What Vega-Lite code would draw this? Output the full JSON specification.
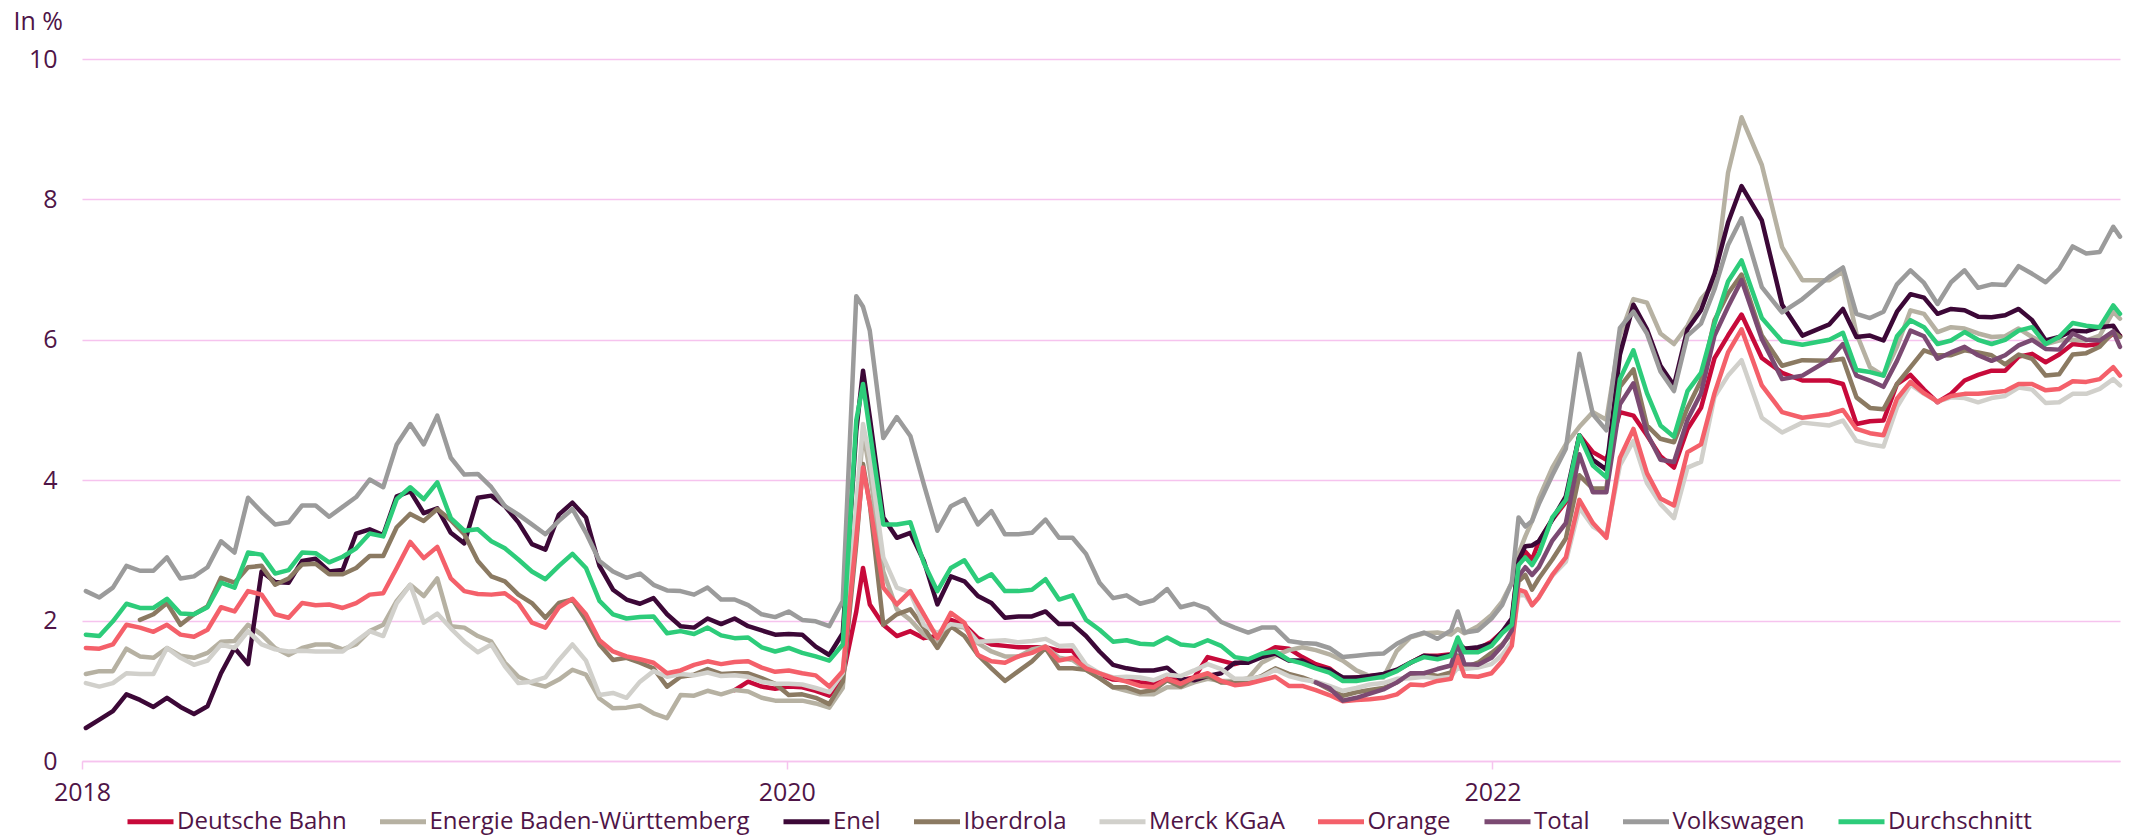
{
"$schema": "https://vega.github.io/schema/vega-lite/v6.json",
"width": 2038,
"height": 702,
"autosize": {"type": "none"},
"padding": {"left": 82, "top": 59, "right": 11, "bottom": 77},
"background": "white",
"datasets": {
"names": [
{"code":"DB","name":"Deutsche Bahn"},
{"code":"EnBW","name":"Energie Baden-Württemberg"},
{"code":"Enel","name":"Enel"},
{"code":"Ibe","name":"Iberdrola"},
{"code":"Merck","name":"Merck KGaA"},
{"code":"Orange","name":"Orange"},
{"code":"Total","name":"Total"},
{"code":"VW","name":"Volkswagen"},
{"code":"Avg","name":"Durchschnitt"}
],
"rates": [
{"d":"2018-01-05","EnBW":1.24,"Enel":0.47,"Merck":1.11,"Orange":1.61,"VW":2.42,"Avg":1.8},
{"d":"2018-01-19","EnBW":1.28,"Enel":0.59,"Merck":1.06,"Orange":1.6,"VW":2.33,"Avg":1.78},
{"d":"2018-02-02","EnBW":1.28,"Enel":0.71,"Merck":1.11,"Orange":1.66,"VW":2.47,"Avg":1.99},
{"d":"2018-02-16","EnBW":1.6,"Enel":0.95,"Merck":1.25,"Orange":1.94,"VW":2.78,"Avg":2.24},
{"d":"2018-03-02","EnBW":1.49,"Enel":0.87,"Ibe":2.01,"Merck":1.24,"Orange":1.9,"VW":2.71,"Avg":2.18},
{"d":"2018-03-16","EnBW":1.47,"Enel":0.77,"Ibe":2.09,"Merck":1.24,"Orange":1.84,"VW":2.71,"Avg":2.18},
{"d":"2018-03-30","EnBW":1.61,"Enel":0.9,"Ibe":2.25,"Merck":1.61,"Orange":1.94,"VW":2.9,"Avg":2.31},
{"d":"2018-04-13","EnBW":1.5,"Enel":0.77,"Ibe":1.94,"Merck":1.47,"Orange":1.8,"VW":2.6,"Avg":2.1},
{"d":"2018-04-27","EnBW":1.47,"Enel":0.67,"Ibe":2.09,"Merck":1.37,"Orange":1.77,"VW":2.63,"Avg":2.09},
{"d":"2018-05-11","EnBW":1.54,"Enel":0.78,"Ibe":2.2,"Merck":1.43,"Orange":1.87,"VW":2.76,"Avg":2.19},
{"d":"2018-05-25","EnBW":1.7,"Enel":1.25,"Ibe":2.61,"Merck":1.66,"Orange":2.19,"VW":3.13,"Avg":2.54},
{"d":"2018-06-08","EnBW":1.71,"Enel":1.61,"Ibe":2.54,"Merck":1.61,"Orange":2.13,"VW":2.97,"Avg":2.47},
{"d":"2018-06-22","EnBW":1.94,"Enel":1.38,"Ibe":2.76,"Merck":1.85,"Orange":2.42,"VW":3.75,"Avg":2.97},
{"d":"2018-07-06","EnBW":1.8,"Enel":2.7,"Ibe":2.78,"Merck":1.66,"Orange":2.37,"VW":3.55,"Avg":2.94},
{"d":"2018-07-20","EnBW":1.61,"Enel":2.55,"Ibe":2.51,"Merck":1.59,"Orange":2.09,"VW":3.37,"Avg":2.67},
{"d":"2018-08-03","EnBW":1.51,"Enel":2.54,"Ibe":2.6,"Merck":1.56,"Orange":2.04,"VW":3.4,"Avg":2.72},
{"d":"2018-08-17","EnBW":1.61,"Enel":2.85,"Ibe":2.8,"Merck":1.57,"Orange":2.25,"VW":3.64,"Avg":2.97},
{"d":"2018-08-31","EnBW":1.66,"Enel":2.88,"Ibe":2.81,"Merck":1.56,"Orange":2.22,"VW":3.64,"Avg":2.96},
{"d":"2018-09-14","EnBW":1.66,"Enel":2.7,"Ibe":2.66,"Merck":1.56,"Orange":2.23,"VW":3.48,"Avg":2.83},
{"d":"2018-09-28","EnBW":1.59,"Enel":2.72,"Ibe":2.66,"Merck":1.56,"Orange":2.18,"VW":3.62,"Avg":2.91},
{"d":"2018-10-12","EnBW":1.66,"Enel":3.24,"Ibe":2.75,"Merck":1.71,"Orange":2.25,"VW":3.76,"Avg":3.03},
{"d":"2018-10-26","EnBW":1.85,"Enel":3.3,"Ibe":2.92,"Merck":1.85,"Orange":2.37,"VW":4.01,"Avg":3.24},
{"d":"2018-11-09","EnBW":1.94,"Enel":3.22,"Ibe":2.92,"Merck":1.78,"Orange":2.39,"VW":3.9,"Avg":3.2},
{"d":"2018-11-23","EnBW":2.28,"Enel":3.77,"Ibe":3.33,"Merck":2.25,"Orange":2.75,"VW":4.51,"Avg":3.73},
{"d":"2018-12-07","EnBW":2.51,"Enel":3.84,"Ibe":3.52,"Merck":2.51,"Orange":3.12,"VW":4.8,"Avg":3.9},
{"d":"2018-12-21","EnBW":2.35,"Enel":3.53,"Ibe":3.42,"Merck":1.97,"Orange":2.89,"VW":4.51,"Avg":3.73},
{"d":"2019-01-04","EnBW":2.6,"Enel":3.6,"Ibe":3.59,"Merck":2.1,"Orange":3.05,"VW":4.92,"Avg":3.97},
{"d":"2019-01-18","EnBW":1.92,"Enel":3.25,"Ibe":3.43,"Merck":1.89,"Orange":2.6,"VW":4.32,"Avg":3.46},
{"d":"2019-02-01","EnBW":1.9,"Enel":3.1,"Ibe":3.23,"Merck":1.7,"Orange":2.42,"VW":4.08,"Avg":3.28},
{"d":"2019-02-15","EnBW":1.78,"Enel":3.75,"Ibe":2.85,"Merck":1.55,"Orange":2.38,"VW":4.09,"Avg":3.3},
{"d":"2019-03-01","EnBW":1.7,"Enel":3.78,"Ibe":2.63,"Merck":1.66,"Orange":2.37,"VW":3.9,"Avg":3.13},
{"d":"2019-03-15","EnBW":1.4,"Enel":3.63,"Ibe":2.56,"Merck":1.35,"Orange":2.39,"VW":3.63,"Avg":3.03},
{"d":"2019-03-29","EnBW":1.2,"Enel":3.4,"Ibe":2.37,"Merck":1.11,"Orange":2.25,"VW":3.51,"Avg":2.87},
{"d":"2019-04-12","EnBW":1.11,"Enel":3.09,"Ibe":2.25,"Merck":1.13,"Orange":1.97,"VW":3.37,"Avg":2.7},
{"d":"2019-04-26","EnBW":1.06,"Enel":3.01,"Ibe":2.04,"Merck":1.19,"Orange":1.9,"VW":3.23,"Avg":2.59},
{"d":"2019-05-10","EnBW":1.16,"Enel":3.51,"Ibe":2.25,"Merck":1.44,"Orange":2.19,"VW":3.42,"Avg":2.78},
{"d":"2019-05-24","EnBW":1.3,"Enel":3.68,"Ibe":2.3,"Merck":1.66,"Orange":2.31,"VW":3.59,"Avg":2.95},
{"d":"2019-06-07","EnBW":1.23,"Enel":3.47,"Ibe":2.01,"Merck":1.43,"Orange":2.09,"VW":3.25,"Avg":2.75},
{"d":"2019-06-21","EnBW":0.89,"Enel":2.78,"Ibe":1.66,"Merck":0.94,"Orange":1.72,"VW":2.85,"Avg":2.28},
{"d":"2019-07-05","EnBW":0.75,"Enel":2.44,"Ibe":1.44,"Merck":0.97,"Orange":1.56,"VW":2.7,"Avg":2.09},
{"d":"2019-07-19","EnBW":0.76,"Enel":2.3,"Ibe":1.47,"Merck":0.9,"Orange":1.49,"VW":2.61,"Avg":2.03},
{"d":"2019-08-02","EnBW":0.79,"Enel":2.24,"Ibe":1.4,"Merck":1.13,"Orange":1.45,"VW":2.67,"Avg":2.05},
{"d":"2019-08-16","EnBW":0.68,"Enel":2.32,"Ibe":1.32,"Merck":1.28,"Orange":1.4,"VW":2.51,"Avg":2.06},
{"d":"2019-08-30","EnBW":0.61,"Enel":2.09,"Ibe":1.06,"Merck":1.2,"Orange":1.25,"VW":2.43,"Avg":1.82},
{"d":"2019-09-13","EnBW":0.94,"Enel":1.92,"Ibe":1.2,"Merck":1.24,"Orange":1.29,"VW":2.42,"Avg":1.85},
{"d":"2019-09-27","EnBW":0.93,"Enel":1.9,"Ibe":1.23,"Merck":1.22,"Orange":1.37,"VW":2.37,"Avg":1.81},
{"d":"2019-10-11","EnBW":1.0,"Enel":2.03,"Ibe":1.31,"Merck":1.26,"Orange":1.42,"VW":2.47,"Avg":1.9},
{"d":"2019-10-25","EnBW":0.95,"Enel":1.95,"Ibe":1.24,"Merck":1.21,"Orange":1.38,"VW":2.3,"Avg":1.79},
{"d":"2019-11-08","DB":1.01,"EnBW":1.01,"Enel":2.03,"Ibe":1.25,"Merck":1.22,"Orange":1.41,"VW":2.3,"Avg":1.75},
{"d":"2019-11-22","DB":1.13,"EnBW":0.99,"Enel":1.92,"Ibe":1.25,"Merck":1.2,"Orange":1.42,"VW":2.22,"Avg":1.76},
{"d":"2019-12-06","DB":1.06,"EnBW":0.9,"Enel":1.86,"Ibe":1.18,"Merck":1.13,"Orange":1.33,"VW":2.09,"Avg":1.62},
{"d":"2019-12-20","DB":1.03,"EnBW":0.86,"Enel":1.8,"Ibe":1.1,"Merck":1.1,"Orange":1.27,"VW":2.05,"Avg":1.56},
{"d":"2020-01-03","DB":1.06,"EnBW":0.86,"Enel":1.81,"Ibe":0.94,"Merck":1.1,"Orange":1.29,"VW":2.13,"Avg":1.61},
{"d":"2020-01-17","DB":1.05,"EnBW":0.86,"Enel":1.8,"Ibe":0.95,"Merck":1.09,"Orange":1.25,"VW":2.01,"Avg":1.54},
{"d":"2020-01-31","DB":1.0,"EnBW":0.82,"Enel":1.63,"Ibe":0.9,"Merck":1.04,"Orange":1.22,"VW":1.99,"Avg":1.49},
{"d":"2020-02-14","DB":0.93,"EnBW":0.76,"Enel":1.51,"Ibe":0.81,"Merck":0.98,"Orange":1.06,"VW":1.92,"Avg":1.43},
{"d":"2020-02-28","DB":1.2,"EnBW":1.04,"Enel":1.82,"Ibe":1.13,"Merck":1.25,"Orange":1.28,"VW":2.28,"Avg":1.66},
{"d":"2020-03-13","DB":2.13,"EnBW":3.42,"Enel":4.7,"Ibe":3.09,"Merck":3.66,"Orange":3.18,"VW":6.62,"Avg":4.85},
{"d":"2020-03-20","DB":2.75,"EnBW":4.7,"Enel":5.56,"Ibe":4.23,"Merck":4.8,"Orange":4.18,"VW":6.47,"Avg":5.37},
{"d":"2020-03-27","DB":2.23,"EnBW":4.13,"Enel":4.9,"Ibe":3.66,"Merck":4.32,"Orange":3.66,"VW":6.13,"Avg":4.7},
{"d":"2020-04-10","DB":1.94,"EnBW":2.7,"Enel":3.47,"Ibe":1.94,"Merck":2.9,"Orange":2.47,"VW":4.6,"Avg":3.37},
{"d":"2020-04-24","DB":1.78,"EnBW":2.16,"Enel":3.18,"Ibe":2.09,"Merck":2.47,"Orange":2.23,"VW":4.9,"Avg":3.37},
{"d":"2020-05-08","DB":1.85,"EnBW":2.01,"Enel":3.25,"Ibe":2.16,"Merck":2.4,"Orange":2.42,"VW":4.63,"Avg":3.4},
{"d":"2020-05-22","DB":1.75,"EnBW":1.8,"Enel":2.85,"Ibe":1.9,"Merck":1.94,"Orange":2.09,"VW":3.94,"Avg":2.82},
{"d":"2020-06-05","DB":1.78,"EnBW":1.68,"Enel":2.23,"Ibe":1.61,"Merck":1.82,"Orange":1.75,"VW":3.28,"Avg":2.42},
{"d":"2020-06-19","DB":2.01,"EnBW":1.93,"Enel":2.63,"Ibe":1.92,"Merck":1.95,"Orange":2.11,"VW":3.63,"Avg":2.75},
{"d":"2020-07-03","DB":1.94,"EnBW":1.9,"Enel":2.56,"Ibe":1.78,"Merck":1.92,"Orange":1.97,"VW":3.73,"Avg":2.86},
{"d":"2020-07-17","DB":1.75,"EnBW":1.68,"Enel":2.35,"Ibe":1.51,"Merck":1.7,"Orange":1.51,"VW":3.37,"Avg":2.56},
{"d":"2020-07-31","DB":1.66,"EnBW":1.56,"Enel":2.25,"Ibe":1.32,"Merck":1.71,"Orange":1.42,"VW":3.56,"Avg":2.66},
{"d":"2020-08-14","DB":1.64,"EnBW":1.49,"Enel":2.04,"Ibe":1.14,"Merck":1.72,"Orange":1.4,"VW":3.23,"Avg":2.42},
{"d":"2020-08-28","DB":1.62,"EnBW":1.49,"Enel":2.06,"Ibe":1.28,"Merck":1.69,"Orange":1.49,"VW":3.23,"Avg":2.42},
{"d":"2020-09-11","DB":1.62,"EnBW":1.59,"Enel":2.06,"Ibe":1.42,"Merck":1.71,"Orange":1.54,"VW":3.25,"Avg":2.44},
{"d":"2020-09-25","DB":1.62,"EnBW":1.63,"Enel":2.13,"Ibe":1.61,"Merck":1.74,"Orange":1.63,"VW":3.44,"Avg":2.59},
{"d":"2020-10-09","DB":1.57,"EnBW":1.47,"Enel":1.95,"Ibe":1.32,"Merck":1.64,"Orange":1.43,"VW":3.18,"Avg":2.3},
{"d":"2020-10-23","DB":1.57,"EnBW":1.44,"Enel":1.95,"Ibe":1.32,"Merck":1.65,"Orange":1.47,"VW":3.18,"Avg":2.36},
{"d":"2020-11-06","DB":1.32,"EnBW":1.3,"Enel":1.78,"Ibe":1.3,"Merck":1.37,"Orange":1.32,"VW":2.95,"Avg":2.01},
{"d":"2020-11-20","DB":1.23,"EnBW":1.18,"Enel":1.56,"Ibe":1.18,"Merck":1.25,"Orange":1.25,"VW":2.54,"Avg":1.87},
{"d":"2020-12-04","DB":1.16,"EnBW":1.05,"Enel":1.37,"Ibe":1.05,"Merck":1.19,"Orange":1.18,"VW":2.32,"Avg":1.7},
{"d":"2020-12-18","DB":1.15,"EnBW":1.0,"Enel":1.32,"Ibe":1.05,"Merck":1.2,"Orange":1.13,"VW":2.36,"Avg":1.72},
{"d":"2021-01-01","DB":1.12,"EnBW":0.95,"Enel":1.29,"Ibe":0.98,"Merck":1.19,"Orange":1.07,"VW":2.24,"Avg":1.67},
{"d":"2021-01-15","DB":1.1,"EnBW":0.95,"Enel":1.29,"Ibe":1.01,"Merck":1.15,"Orange":1.05,"VW":2.29,"Avg":1.66},
{"d":"2021-01-29","DB":1.18,"EnBW":1.05,"Enel":1.33,"Ibe":1.15,"Merck":1.23,"Orange":1.17,"VW":2.45,"Avg":1.76},
{"d":"2021-02-12","DB":1.15,"EnBW":1.05,"Enel":1.17,"Ibe":1.06,"Merck":1.21,"Orange":1.1,"VW":2.19,"Avg":1.66},
{"d":"2021-02-26","DB":1.19,"EnBW":1.12,"Enel":1.15,"Ibe":1.19,"Merck":1.29,"Orange":1.19,"VW":2.24,"Avg":1.64},
{"d":"2021-03-12","DB":1.48,"EnBW":1.17,"Enel":1.21,"Ibe":1.21,"Merck":1.38,"Orange":1.25,"VW":2.17,"Avg":1.72},
{"d":"2021-03-26","DB":1.43,"EnBW":1.14,"Enel":1.25,"Ibe":1.12,"Merck":1.31,"Orange":1.14,"VW":1.98,"Avg":1.64},
{"d":"2021-04-09","DB":1.38,"EnBW":1.14,"Enel":1.4,"Ibe":1.12,"Merck":1.17,"Orange":1.08,"VW":1.9,"Avg":1.48},
{"d":"2021-04-23","DB":1.43,"EnBW":1.18,"Enel":1.4,"Ibe":1.15,"Merck":1.17,"Orange":1.1,"VW":1.83,"Avg":1.45},
{"d":"2021-05-07","DB":1.52,"EnBW":1.4,"Enel":1.48,"Ibe":1.21,"Merck":1.2,"Orange":1.15,"VW":1.9,"Avg":1.53},
{"d":"2021-05-21","DB":1.62,"EnBW":1.5,"Enel":1.53,"Ibe":1.32,"Merck":1.3,"Orange":1.2,"VW":1.9,"Avg":1.56},
{"d":"2021-06-04","DB":1.6,"EnBW":1.58,"Enel":1.43,"Ibe":1.24,"Merck":1.21,"Orange":1.07,"VW":1.71,"Avg":1.44},
{"d":"2021-06-18","DB":1.48,"EnBW":1.62,"Enel":1.43,"Ibe":1.19,"Merck":1.16,"Orange":1.07,"VW":1.68,"Avg":1.39},
{"d":"2021-07-02","DB":1.38,"EnBW":1.58,"Enel":1.33,"Ibe":1.12,"Merck":1.13,"Orange":1.01,"Total":1.12,"VW":1.67,"Avg":1.32},
{"d":"2021-07-16","DB":1.32,"EnBW":1.52,"Enel":1.3,"Ibe":1.02,"Merck":1.07,"Orange":0.94,"Total":1.04,"VW":1.61,"Avg":1.26},
{"d":"2021-07-30","DB":1.17,"EnBW":1.43,"Enel":1.19,"Ibe":0.93,"Merck":1.0,"Orange":0.85,"Total":0.86,"VW":1.48,"Avg":1.14},
{"d":"2021-08-13","DB":1.19,"EnBW":1.29,"Enel":1.19,"Ibe":0.98,"Merck":1.04,"Orange":0.87,"Total":0.9,"VW":1.5,"Avg":1.14},
{"d":"2021-08-27","DB":1.21,"EnBW":1.21,"Enel":1.21,"Ibe":1.01,"Merck":1.09,"Orange":0.88,"Total":0.96,"VW":1.52,"Avg":1.17},
{"d":"2021-09-10","DB":1.23,"EnBW":1.19,"Enel":1.24,"Ibe":1.04,"Merck":1.11,"Orange":0.9,"Total":1.02,"VW":1.53,"Avg":1.2},
{"d":"2021-09-24","DB":1.29,"EnBW":1.57,"Enel":1.3,"Ibe":1.12,"Merck":1.17,"Orange":0.95,"Total":1.12,"VW":1.67,"Avg":1.28},
{"d":"2021-10-08","DB":1.4,"EnBW":1.76,"Enel":1.4,"Ibe":1.24,"Merck":1.18,"Orange":1.09,"Total":1.25,"VW":1.77,"Avg":1.4},
{"d":"2021-10-22","DB":1.5,"EnBW":1.82,"Enel":1.5,"Ibe":1.25,"Merck":1.2,"Orange":1.08,"Total":1.25,"VW":1.83,"Avg":1.48},
{"d":"2021-11-05","DB":1.5,"EnBW":1.83,"Enel":1.48,"Ibe":1.21,"Merck":1.18,"Orange":1.14,"Total":1.31,"VW":1.74,"Avg":1.45},
{"d":"2021-11-19","DB":1.52,"EnBW":1.8,"Enel":1.51,"Ibe":1.26,"Merck":1.2,"Orange":1.17,"Total":1.36,"VW":1.86,"Avg":1.5},
{"d":"2021-11-26","DB":1.62,"EnBW":1.88,"Enel":1.69,"Ibe":1.5,"Merck":1.33,"Orange":1.48,"Total":1.67,"VW":2.13,"Avg":1.76},
{"d":"2021-12-03","DB":1.6,"EnBW":1.82,"Enel":1.6,"Ibe":1.33,"Merck":1.31,"Orange":1.21,"Total":1.38,"VW":1.83,"Avg":1.55},
{"d":"2021-12-17","DB":1.6,"EnBW":1.92,"Enel":1.62,"Ibe":1.4,"Merck":1.33,"Orange":1.2,"Total":1.37,"VW":1.86,"Avg":1.55},
{"d":"2021-12-31","DB":1.7,"EnBW":2.08,"Enel":1.67,"Ibe":1.54,"Merck":1.38,"Orange":1.25,"Total":1.47,"VW":2.03,"Avg":1.64},
{"d":"2022-01-11","DB":1.84,"EnBW":2.27,"Enel":1.84,"Ibe":1.66,"Merck":1.51,"Orange":1.42,"Total":1.64,"VW":2.22,"Avg":1.82},
{"d":"2022-01-21","DB":1.97,"EnBW":2.54,"Enel":2.03,"Ibe":1.82,"Merck":1.7,"Orange":1.64,"Total":1.86,"VW":2.54,"Avg":1.94},
{"d":"2022-01-28","DB":2.86,"EnBW":2.95,"Enel":2.86,"Ibe":2.56,"Merck":2.36,"Orange":2.44,"Total":2.63,"VW":3.47,"Avg":2.79},
{"d":"2022-02-04","DB":2.98,"EnBW":3.2,"Enel":3.06,"Ibe":2.65,"Merck":2.36,"Orange":2.41,"Total":2.76,"VW":3.34,"Avg":2.9},
{"d":"2022-02-11","DB":2.87,"EnBW":3.42,"Enel":3.07,"Ibe":2.44,"Merck":2.22,"Orange":2.22,"Total":2.65,"VW":3.42,"Avg":2.79},
{"d":"2022-02-18","DB":3.12,"EnBW":3.74,"Enel":3.13,"Ibe":2.6,"Merck":2.33,"Orange":2.33,"Total":2.76,"VW":3.66,"Avg":2.95},
{"d":"2022-03-04","DB":3.44,"EnBW":4.18,"Enel":3.44,"Ibe":2.87,"Merck":2.64,"Orange":2.65,"Total":3.14,"VW":4.07,"Avg":3.47},
{"d":"2022-03-18","DB":3.69,"EnBW":4.51,"Enel":3.77,"Ibe":3.17,"Merck":2.84,"Orange":2.9,"Total":3.39,"VW":4.45,"Avg":3.72},
{"d":"2022-04-01","DB":4.64,"EnBW":4.76,"Enel":4.64,"Ibe":4.07,"Merck":3.61,"Orange":3.72,"Total":4.37,"VW":5.8,"Avg":4.64},
{"d":"2022-04-15","DB":4.4,"EnBW":4.97,"Enel":4.29,"Ibe":3.88,"Merck":3.34,"Orange":3.39,"Total":3.83,"VW":4.94,"Avg":4.21},
{"d":"2022-04-29","DB":4.29,"EnBW":4.86,"Enel":4.15,"Ibe":3.88,"Merck":3.22,"Orange":3.18,"Total":3.83,"VW":4.71,"Avg":4.04},
{"d":"2022-05-13","DB":4.97,"EnBW":6.06,"Enel":5.79,"Ibe":5.33,"Merck":4.21,"Orange":4.32,"Total":5.08,"VW":6.17,"Avg":5.44},
{"d":"2022-05-27","DB":4.92,"EnBW":6.58,"Enel":6.5,"Ibe":5.58,"Merck":4.56,"Orange":4.73,"Total":5.38,"VW":6.4,"Avg":5.85},
{"d":"2022-06-10","DB":4.64,"EnBW":6.53,"Enel":6.15,"Ibe":4.78,"Merck":3.96,"Orange":4.1,"Total":4.67,"VW":6.09,"Avg":5.24},
{"d":"2022-06-24","DB":4.34,"EnBW":6.09,"Enel":5.63,"Ibe":4.59,"Merck":3.66,"Orange":3.74,"Total":4.29,"VW":5.55,"Avg":4.78},
{"d":"2022-07-08","DB":4.18,"EnBW":5.94,"Enel":5.35,"Ibe":4.54,"Merck":3.46,"Orange":3.64,"Total":4.26,"VW":5.27,"Avg":4.62},
{"d":"2022-07-22","DB":4.73,"EnBW":6.2,"Enel":6.15,"Ibe":5.03,"Merck":4.18,"Orange":4.4,"Total":4.86,"VW":6.06,"Avg":5.27},
{"d":"2022-08-05","DB":5.03,"EnBW":6.58,"Enel":6.42,"Ibe":5.42,"Merck":4.26,"Orange":4.51,"Total":5.24,"VW":6.23,"Avg":5.53},
{"d":"2022-08-19","DB":5.74,"EnBW":6.8,"Enel":6.94,"Ibe":6.28,"Merck":5.19,"Orange":5.24,"Total":6.06,"VW":6.72,"Avg":6.23},
{"d":"2022-09-02","DB":6.06,"EnBW":8.38,"Enel":7.67,"Ibe":6.66,"Merck":5.49,"Orange":5.82,"Total":6.47,"VW":7.35,"Avg":6.83},
{"d":"2022-09-16","DB":6.36,"EnBW":9.17,"Enel":8.19,"Ibe":6.93,"Merck":5.71,"Orange":6.15,"Total":6.85,"VW":7.73,"Avg":7.13},
{"d":"2022-10-07","DB":5.74,"EnBW":8.49,"Enel":7.7,"Ibe":6.06,"Merck":4.89,"Orange":5.35,"Total":6.01,"VW":6.75,"Avg":6.31},
{"d":"2022-10-28","DB":5.53,"EnBW":7.32,"Enel":6.5,"Ibe":5.63,"Merck":4.68,"Orange":4.97,"Total":5.44,"VW":6.39,"Avg":5.98},
{"d":"2022-11-18","DB":5.42,"EnBW":6.85,"Enel":6.06,"Ibe":5.71,"Merck":4.82,"Orange":4.89,"Total":5.49,"VW":6.58,"Avg":5.93},
{"d":"2022-12-16","DB":5.42,"EnBW":6.85,"Enel":6.22,"Ibe":5.7,"Merck":4.78,"Orange":4.94,"Total":5.72,"VW":6.9,"Avg":6.0},
{"d":"2022-12-30","DB":5.37,"EnBW":6.97,"Enel":6.44,"Ibe":5.73,"Merck":4.85,"Orange":5.0,"Total":5.94,"VW":7.03,"Avg":6.1},
{"d":"2023-01-13","DB":4.8,"EnBW":6.09,"Enel":6.04,"Ibe":5.18,"Merck":4.56,"Orange":4.73,"Total":5.49,"VW":6.37,"Avg":5.57},
{"d":"2023-01-27","DB":4.84,"EnBW":5.61,"Enel":6.06,"Ibe":5.03,"Merck":4.51,"Orange":4.67,"Total":5.42,"VW":6.31,"Avg":5.54},
{"d":"2023-02-10","DB":4.85,"EnBW":5.49,"Enel":5.99,"Ibe":5.01,"Merck":4.48,"Orange":4.64,"Total":5.33,"VW":6.4,"Avg":5.49},
{"d":"2023-02-24","DB":5.37,"EnBW":5.9,"Enel":6.4,"Ibe":5.37,"Merck":5.04,"Orange":5.16,"Total":5.7,"VW":6.79,"Avg":6.05},
{"d":"2023-03-10","DB":5.5,"EnBW":6.42,"Enel":6.65,"Ibe":5.61,"Merck":5.36,"Orange":5.4,"Total":6.13,"VW":6.99,"Avg":6.28},
{"d":"2023-03-24","DB":5.29,"EnBW":6.37,"Enel":6.6,"Ibe":5.85,"Merck":5.23,"Orange":5.24,"Total":6.05,"VW":6.81,"Avg":6.18},
{"d":"2023-04-07","DB":5.11,"EnBW":6.11,"Enel":6.37,"Ibe":5.78,"Merck":5.12,"Orange":5.12,"Total":5.73,"VW":6.51,"Avg":5.94},
{"d":"2023-04-21","DB":5.23,"EnBW":6.18,"Enel":6.44,"Ibe":5.78,"Merck":5.18,"Orange":5.2,"Total":5.82,"VW":6.82,"Avg":5.99},
{"d":"2023-05-05","DB":5.42,"EnBW":6.16,"Enel":6.42,"Ibe":5.85,"Merck":5.17,"Orange":5.23,"Total":5.9,"VW":6.99,"Avg":6.11},
{"d":"2023-05-19","DB":5.5,"EnBW":6.09,"Enel":6.33,"Ibe":5.82,"Merck":5.11,"Orange":5.23,"Total":5.78,"VW":6.74,"Avg":6.0},
{"d":"2023-06-02","DB":5.56,"EnBW":6.04,"Enel":6.32,"Ibe":5.78,"Merck":5.17,"Orange":5.25,"Total":5.7,"VW":6.79,"Avg":5.94},
{"d":"2023-06-16","DB":5.56,"EnBW":6.05,"Enel":6.35,"Ibe":5.65,"Merck":5.2,"Orange":5.27,"Total":5.78,"VW":6.78,"Avg":6.0},
{"d":"2023-06-30","DB":5.76,"EnBW":6.16,"Enel":6.44,"Ibe":5.79,"Merck":5.32,"Orange":5.37,"Total":5.92,"VW":7.05,"Avg":6.13},
{"d":"2023-07-14","DB":5.8,"EnBW":6.04,"Enel":6.28,"Ibe":5.73,"Merck":5.29,"Orange":5.37,"Total":6.0,"VW":6.94,"Avg":6.18},
{"d":"2023-07-28","DB":5.68,"EnBW":5.94,"Enel":5.99,"Ibe":5.49,"Merck":5.1,"Orange":5.28,"Total":5.87,"VW":6.82,"Avg":5.94},
{"d":"2023-08-11","DB":5.79,"EnBW":5.99,"Enel":6.04,"Ibe":5.51,"Merck":5.11,"Orange":5.3,"Total":5.86,"VW":7.01,"Avg":6.04},
{"d":"2023-08-25","DB":5.94,"EnBW":6.0,"Enel":6.13,"Ibe":5.79,"Merck":5.23,"Orange":5.41,"Total":6.09,"VW":7.33,"Avg":6.24},
{"d":"2023-09-08","DB":5.92,"EnBW":5.99,"Enel":6.12,"Ibe":5.81,"Merck":5.23,"Orange":5.4,"Total":6.0,"VW":7.23,"Avg":6.2},
{"d":"2023-09-22","DB":5.94,"EnBW":6.06,"Enel":6.18,"Ibe":5.9,"Merck":5.3,"Orange":5.44,"Total":5.99,"VW":7.25,"Avg":6.18},
{"d":"2023-10-06","DB":6.09,"EnBW":6.4,"Enel":6.2,"Ibe":6.11,"Merck":5.44,"Orange":5.61,"Total":6.12,"VW":7.61,"Avg":6.49},
{"d":"2023-10-13","DB":6.06,"EnBW":6.3,"Enel":6.05,"Ibe":6.04,"Merck":5.35,"Orange":5.49,"Total":5.9,"VW":7.47,"Avg":6.37}
]
},
"data": {"name": "rates"},
"transform": [
{"fold": ["DB","EnBW","Enel","Ibe","Merck","Orange","Total","VW","Avg"], "as": ["code","value"]},
{"lookup": "code", "from": {"data": {"name": "names"}, "key": "code", "fields": ["name"]}}
],
"mark": {"type": "line", "strokeWidth": 4.5, "strokeJoin": "round", "strokeCap": "round"},
"encoding": {
"x": {
"field": "d", "type": "temporal",
"scale": {"domain": [{"year":2018,"month":1,"date":1},{"year":2023,"month":10,"date":13}]},
"axis": {
"title": null,
"values": [{"year":2018,"month":1,"date":1},{"year":2020,"month":1,"date":1},{"year":2022,"month":1,"date":1}],
"format": "%Y",
"grid": false,
"labelFlush": false,
"labelOverlap": false,
"domainColor": "#f6c3ee",
"domainWidth": 1.5,
"tickColor": "#f6c3ee",
"tickWidth": 1.5,
"tickSize": 8,
"labelFontSize": 25,
"labelColor": "#4f1547",
"labelPadding": 11
}
},
"y": {
"field": "value", "type": "quantitative",
"scale": {"domain": [0, 10], "nice": false, "zero": true},
"axis": {
"values": [0,2,4,6,8,10],
"grid": true,
"gridColor": "#f6c3ee",
"gridWidth": 1.5,
"domain": false,
"ticks": false,
"tickSize": 0,
"labelFontSize": 25,
"labelColor": "#4f1547",
"labelPadding": 25,
"title": "In %",
"titleAngle": 0,
"titleX": -69,
"titleY": -30,
"titleAlign": "left",
"titleBaseline": "alphabetic",
"titleFontSize": 25,
"titleFontWeight": "normal",
"titleColor": "#4f1547"
}
},
"color": {
"field": "name", "type": "nominal",
"scale": {
"domain": ["Deutsche Bahn","Energie Baden-Württemberg","Enel","Iberdrola","Merck KGaA","Orange","Total","Volkswagen","Durchschnitt"],
"range": ["#c70a3a","#b6b1a2","#3c0837","#8b7a62","#d1d0cb","#f4606a","#7b4a72","#9b9b9b","#2dcc7a"]
},
"legend": {
"title": null,
"orient": "none",
"legendX": 43,
"legendY": 737,
"direction": "horizontal",
"symbolType": "stroke",
"symbolSize": 2116,
"symbolStrokeWidth": 5,
"labelFontSize": 24,
"labelColor": "#4f1547",
"labelOffset": 1,
"columnPadding": 22.5,
"padding": 0,
"labelLimit": 600
}
}
},
"config": {
"font": "Open Sans",
"view": {"stroke": null}
}
}
